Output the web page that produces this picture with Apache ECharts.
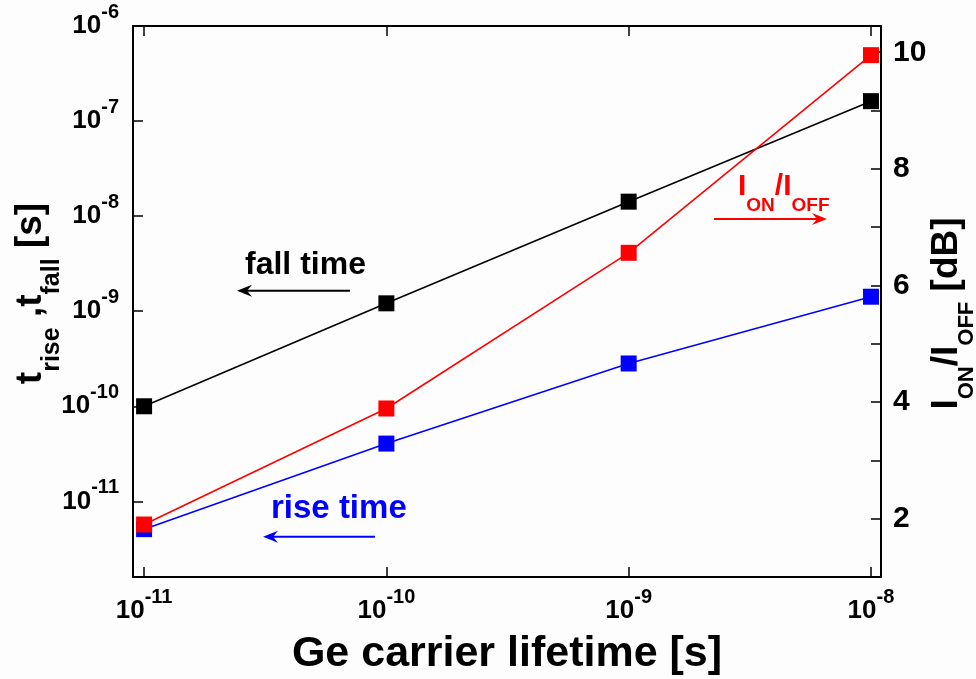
<!DOCTYPE html>
<html>
<head>
<meta charset="utf-8">
<script src="https://cdn.jsdelivr.net/npm/echarts@6/dist/echarts.min.js"></script>
<style>
  html, body { margin: 0; padding: 0; background: #fdfdfd; }
  #chart { width: 976px; height: 679px; }
</style>
</head>
<body>
<div id="chart"></div>
<script>
// Ge carrier lifetime [s]
const lifetimes = [1e-11, 1e-10, 1e-9, 1e-8];
// fall time [s]
const fallTime = [1.0e-10, 1.21e-9, 1.42e-8, 1.62e-7];
// rise time [s]
const riseTime = [5.1e-12, 4.05e-11, 2.82e-10, 1.42e-9];
// ON/OFF current ratio [dB]
const onOffRatio = [1.90, 3.89, 6.56, 9.95];

const FONT = '"Liberation Sans", Arial, sans-serif';

function pairs(xs, ys) { return xs.map((x, i) => [x, ys[i]]); }

function powerLabel(value) {
  const e = Math.round(Math.log10(value));
  return '{b|10}{s|' + e + '}';
}

const powerRich = {
  b: { fontFamily: FONT, fontWeight: 'bold', fontSize: 26, lineHeight: 48, color: '#000' },
  s: { fontFamily: FONT, fontWeight: 'bold', fontSize: 20, lineHeight: 20, verticalAlign: 'top', color: '#000' }
};

const tickStyle = { show: true, inside: true, length: 10, lineStyle: { color: '#000', width: 1.5 } };
const lineStyleAxis = { show: true, onZero: false, lineStyle: { color: '#000', width: 2 } };

function arrow(x1, x2, y, color) {
  const dir = x2 > x1 ? 1 : -1;
  return [
    { type: 'line', shape: { x1: x1, y1: y, x2: x2 - dir * 6, y2: y },
      style: { stroke: color, lineWidth: 2 }, z: 100 },
    { type: 'polygon', shape: { points: [[x2, y], [x2 - dir * 15, y - 6], [x2 - dir * 10, y], [x2 - dir * 15, y + 6]] },
      style: { fill: color }, z: 100 }
  ];
}

const chart = echarts.init(document.getElementById('chart'), null, { renderer: 'canvas' });

chart.setOption({
  backgroundColor: '#fdfdfd',
  animation: false,
  grid: { left: 133, top: 26, right: 95, bottom: 102, containLabel: false, outerBoundsMode: 'none' },
  xAxis: [
    {
      type: 'log', logBase: 10, min: 9e-12, max: 1.1e-8, position: 'bottom',
      name: 'Ge carrier lifetime [s]', nameLocation: 'middle', nameGap: 56, nameMoveOverlap: false,
      nameTextStyle: { fontFamily: FONT, fontWeight: 'bold', fontSize: 43, color: '#000' },
      axisLine: lineStyleAxis, axisTick: tickStyle, splitLine: { show: false }, minorTick: { show: false },
      axisLabel: { formatter: powerLabel, rich: powerRich, margin: 10, showMinLabel: false, showMaxLabel: false }
    },
    {
      type: 'log', logBase: 10, min: 9e-12, max: 1.1e-8, position: 'top',
      axisLine: lineStyleAxis, axisTick: tickStyle, splitLine: { show: false },
      axisLabel: { show: false }
    }
  ],
  yAxis: [
    {
      type: 'log', logBase: 10, min: 1.6e-12, max: 1e-6, position: 'left',
      name: '{t|t}{sub|rise}{t| ,t}{sub|fall}{t| [s]}', nameLocation: 'middle', nameRotate: 90,
      nameGap: 85, nameMoveOverlap: false,
      nameTextStyle: {
        padding: [0, 0, 0, 16],
        rich: {
          t: { fontFamily: FONT, fontWeight: 'bold', fontSize: 37, lineHeight: 36, verticalAlign: 'top', color: '#000' },
          sub: { fontFamily: FONT, fontWeight: 'bold', fontSize: 25, lineHeight: 24, padding: [28, 0, 0, 0], verticalAlign: 'top', color: '#000' }
        }
      },
      axisLine: lineStyleAxis, axisTick: tickStyle, splitLine: { show: false },
      axisLabel: { formatter: powerLabel, rich: powerRich, margin: 14, showMinLabel: false }
    },
    {
      type: 'value', min: 1, max: 10.45, interval: 1, position: 'right', alignTicks: false,
      name: '{m|I}{s|ON}{m|/I}{s|OFF}{m| [dB]}', nameLocation: 'middle', nameRotate: 90,
      nameGap: 47, nameMoveOverlap: false,
      nameTextStyle: {
        padding: [0, 24, 0, 0],
        rich: {
          m: { fontFamily: FONT, fontWeight: 'bold', fontSize: 37, lineHeight: 36, verticalAlign: 'top', color: '#000' },
          s: { fontFamily: FONT, fontWeight: 'bold', fontSize: 22, lineHeight: 21, padding: [28, 0, 0, 0], verticalAlign: 'top', color: '#000' }
        }
      },
      axisLine: lineStyleAxis, axisTick: tickStyle, splitLine: { show: false },
      axisLabel: {
        margin: 12, fontFamily: FONT, fontWeight: 'bold', fontSize: 30, color: '#000',
        formatter: v => (Math.round(v) % 2 === 0 ? String(Math.round(v)) : '')
      }
    }
  ],
  series: [
    {
      name: 'fall time', type: 'line', xAxisIndex: 0, yAxisIndex: 0,
      data: pairs(lifetimes, fallTime), symbol: 'rect', symbolSize: 16,
      itemStyle: { color: '#000000' }, lineStyle: { color: '#000000', width: 1.6 }, z: 3
    },
    {
      name: 'rise time', type: 'line', xAxisIndex: 0, yAxisIndex: 0,
      data: pairs(lifetimes, riseTime), symbol: 'rect', symbolSize: 16,
      itemStyle: { color: '#0000ff' }, lineStyle: { color: '#0000ff', width: 1.6 }, z: 3
    },
    {
      name: 'ION/IOFF', type: 'line', xAxisIndex: 0, yAxisIndex: 1,
      data: pairs(lifetimes, onOffRatio), symbol: 'rect', symbolSize: 16,
      itemStyle: { color: '#ff0000' }, lineStyle: { color: '#ff0000', width: 1.6 }, z: 4
    }
  ],
  graphic: [
    { type: 'text', x: 245, y: 265, z: 100,
      style: { text: 'fall time', font: 'bold 32px ' + FONT, fill: '#000', verticalAlign: 'middle' } },
    ...arrow(350, 237, 290.7, '#000000'),
    { type: 'text', x: 271, y: 509, z: 100,
      style: { text: 'rise time', font: 'bold 33px ' + FONT, fill: '#0000ff', verticalAlign: 'middle' } },
    ...arrow(375, 263, 536.7, '#0000ff'),
    { type: 'text', x: 738, y: 172, z: 100,
      style: {
        text: '{m|I}{s|ON}{m|/I}{s|OFF}',
        rich: {
          m: { fontFamily: FONT, fontWeight: 'bold', fontSize: 30, lineHeight: 30, verticalAlign: 'top', fill: '#ff0000', color: '#ff0000' },
          s: { fontFamily: FONT, fontWeight: 'bold', fontSize: 19, lineHeight: 18, padding: [24, 0, 0, 0], verticalAlign: 'top', fill: '#ff0000', color: '#ff0000' }
        },
        fill: '#ff0000'
      } },
    ...arrow(714, 827, 219, '#ff0000')
  ]
});
</script>
</body>
</html>
